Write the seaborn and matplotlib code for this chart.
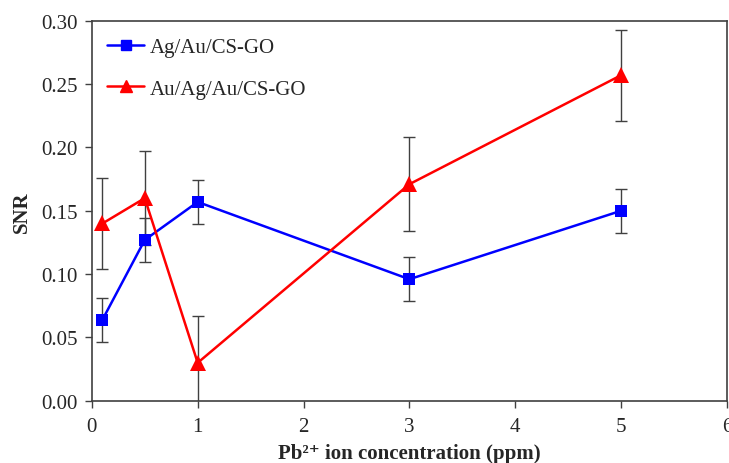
import matplotlib
matplotlib.use("Agg")
import matplotlib.pyplot as plt
import seaborn as sns
import pandas as pd
from matplotlib.lines import Line2D

conc = [0.1, 0.5, 1, 3, 5]
snr_agau = [0.064, 0.127, 0.157, 0.096, 0.150]
err_agau = [0.0173, 0.0175, 0.0175, 0.0174, 0.0174]
snr_auagau = [0.140, 0.160, 0.030, 0.171, 0.257]
err_auagau = [0.036, 0.037, 0.037, 0.037, 0.036]
series_names = ["Ag/Au/CS-GO", "Au/Ag/Au/CS-GO"]
x_ticks = [0, 1, 2, 3, 4, 5, 6]
y_ticks = [0.00, 0.05, 0.10, 0.15, 0.20, 0.25, 0.30]

sns.set_style("ticks")
plt.rcParams['font.family'] = ['Liberation Serif', 'DejaVu Serif']

df = pd.DataFrame({
    "x": conc * 2,
    "y": snr_agau + snr_auagau,
    "series": [series_names[0]] * len(conc) + [series_names[1]] * len(conc),
})

fig = plt.figure(figsize=(7.29, 4.64), dpi=100)
ax = fig.add_axes([0.126, 0.134, 0.871, 0.819])

ecol = "#404040"
ax.errorbar(conc, snr_agau, yerr=err_agau, fmt="none", ecolor=ecol,
            elinewidth=1.0, capsize=4, capthick=1.0, zorder=1)
ax.errorbar(conc, snr_auagau, yerr=err_auagau, fmt="none", ecolor=ecol,
            elinewidth=1.0, capsize=4, capthick=1.0, zorder=1)

sns.lineplot(data=df, x="x", y="y", hue="series", style="series",
             palette={series_names[0]: "#0000FF", series_names[1]: "#FF0000"},
             markers={series_names[0]: "s", series_names[1]: "^"},
             dashes=False, linewidth=1.8, markersize=9, markeredgewidth=0,
             ax=ax, zorder=3, legend=False)
for ln in ax.get_lines():
    if ln.get_marker() == "^":
        ln.set_markersize(12)
    elif ln.get_marker() == "s":
        ln.set_markersize(8)

handles = [
    Line2D([], [], color="#0000FF", marker="s", markersize=7, linewidth=1.8),
    Line2D([], [], color="#FF0000", marker="^", markersize=9, linewidth=1.8),
]
ax.legend(handles, series_names, loc="upper left", frameon=False,
          fontsize=15, handlelength=1.75, labelspacing=1.05,
          bbox_to_anchor=(-0.005, 1.005), borderaxespad=0.5, handletextpad=0.3)

ax.set_xlim(0, 6)
ax.set_ylim(0, 0.30)
ax.set_xticks(x_ticks)
ax.set_yticks(y_ticks)
ax.set_yticklabels([f"{v:.2f}" for v in y_ticks])
ax.tick_params(axis="both", labelsize=15, direction="out", length=5,
               color=ecol, width=1.0)
ax.tick_params(axis="x", pad=7)
ax.tick_params(axis="y", pad=5)
for sp in ax.spines.values():
    sp.set_visible(True)
    sp.set_color(ecol)
    sp.set_linewidth(1.2)

ax.set_xlabel("Pb²⁺ ion concentration (ppm)", fontsize=15, fontweight="bold", labelpad=5)
ax.set_ylabel("SNR", fontsize=15, fontweight="bold", labelpad=7)

fig.savefig("out.png", dpi=100)
